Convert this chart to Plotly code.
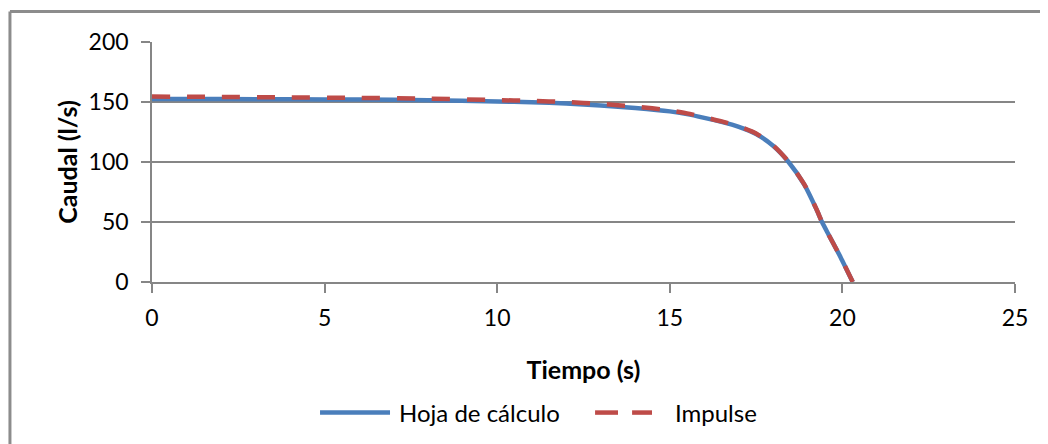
import plotly.graph_objects as go

# Hoja de cálculo (blue solid)
t_hoja = [0, 2, 4, 6, 8, 10, 11, 12, 13, 14, 15, 15.5, 16, 16.5, 17, 17.5, 18, 18.44, 18.9, 19.25, 19.41, 19.6, 19.95, 20.3]
q_hoja = [152.5, 152.4, 152.2, 152.0, 151.5, 150.5, 149.8, 148.8, 147.1, 145.0, 142.2, 139.9, 136.8, 133.4, 129.3, 123.4, 113.3, 100.0, 81.0, 60.5, 50.0, 39.5, 20.5, 0.0]

# Impulse (red dashed)
t_imp = [0, 2, 4, 6, 8, 10, 11, 12, 13, 14, 15, 15.5, 16, 16.5, 17, 17.5, 18, 18.44, 18.9, 19.25, 19.41, 19.6, 19.95, 20.3]
q_imp = [154.5, 154.2, 153.8, 153.4, 152.8, 151.6, 150.9, 150.0, 148.4, 146.2, 143.0, 140.5, 137.3, 133.8, 129.7, 123.8, 113.6, 100.3, 81.2, 60.6, 50.0, 39.5, 20.5, 0.0]

x_ticks = [0, 5, 10, 15, 20, 25]
y_ticks = [0, 50, 100, 150, 200]

series_names = ["Hoja de cálculo", "Impulse"]

FONT = "Lato"
GRID = "#868686"
BLUE = "#4A7EBB"
RED = "#BE4B48"

fig = go.Figure()
fig.add_trace(go.Scatter(x=t_hoja, y=q_hoja, mode="lines", name=series_names[0],
                         line=dict(color=BLUE, width=4.5, shape="spline", smoothing=0.6), showlegend=False))
fig.add_trace(go.Scatter(x=t_imp, y=q_imp, mode="lines", name=series_names[1],
                         line=dict(color=RED, width=4.5, dash="18px,17px", shape="spline", smoothing=0.6),
                         showlegend=False))

LEG_Y = -0.544
shapes = [
    # outer chart border (top and left visible)
    dict(type="line", xref="paper", yref="paper", x0=-0.1646, x1=1.2, y0=1.1266, y1=1.1266,
         line=dict(color="#8C8C8C", width=3)),
    dict(type="line", xref="paper", yref="paper", x0=-0.1646, x1=-0.1646, y0=-0.8, y1=1.1266,
         line=dict(color="#8C8C8C", width=3)),
    # legend keys
    dict(type="line", xref="paper", yref="paper", x0=0.1947, x1=0.2758, y0=LEG_Y, y1=LEG_Y,
         line=dict(color=BLUE, width=4.5)),
    dict(type="line", xref="paper", yref="paper", x0=0.5134, x1=0.5400, y0=LEG_Y, y1=LEG_Y,
         line=dict(color=RED, width=4.5)),
    dict(type="line", xref="paper", yref="paper", x0=0.5563, x1=0.5794, y0=LEG_Y, y1=LEG_Y,
         line=dict(color=RED, width=4.5)),
]
annotations = [
    dict(text=series_names[0], xref="paper", yref="paper", x=0.2839, y=LEG_Y, xanchor="left",
         yanchor="middle", showarrow=False, font=dict(family=FONT, size=24, color="#000")),
    dict(text=series_names[1], xref="paper", yref="paper", x=0.6038, y=LEG_Y, xanchor="left",
         yanchor="middle", showarrow=False, font=dict(family=FONT, size=24, color="#000")),
]

fig.update_layout(
    width=1048, height=444,
    margin=dict(l=144, r=41, t=34, b=170),
    paper_bgcolor="white", plot_bgcolor="white",
    font=dict(family=FONT, size=23, color="#000000"),
    showlegend=False,
    xaxis=dict(range=[0, 25], tickvals=x_ticks, showgrid=False, zeroline=False,
               showline=True, linecolor=GRID, linewidth=1.5,
               ticks="outside", ticklen=9, tickcolor=GRID, tickwidth=1.5,
               tickfont=dict(family=FONT, size=23), ticklabelstandoff=6,
               title=dict(text="<b>Tiempo (s)</b>", font=dict(family=FONT, size=25), standoff=31)),
    yaxis=dict(range=[0, 200], tickvals=y_ticks, showgrid=True, gridcolor=GRID, gridwidth=1.5,
               zeroline=False, showline=True, linecolor=GRID, linewidth=1.5,
               ticks="outside", ticklen=9, tickcolor=GRID, tickwidth=1.5,
               tickfont=dict(family=FONT, size=23), ticklabelstandoff=8,
               title=dict(text="<b>Caudal (l/s)</b>", font=dict(family=FONT, size=25), standoff=4)),
    shapes=shapes,
    annotations=annotations,
)

fig.write_html("out.html")
